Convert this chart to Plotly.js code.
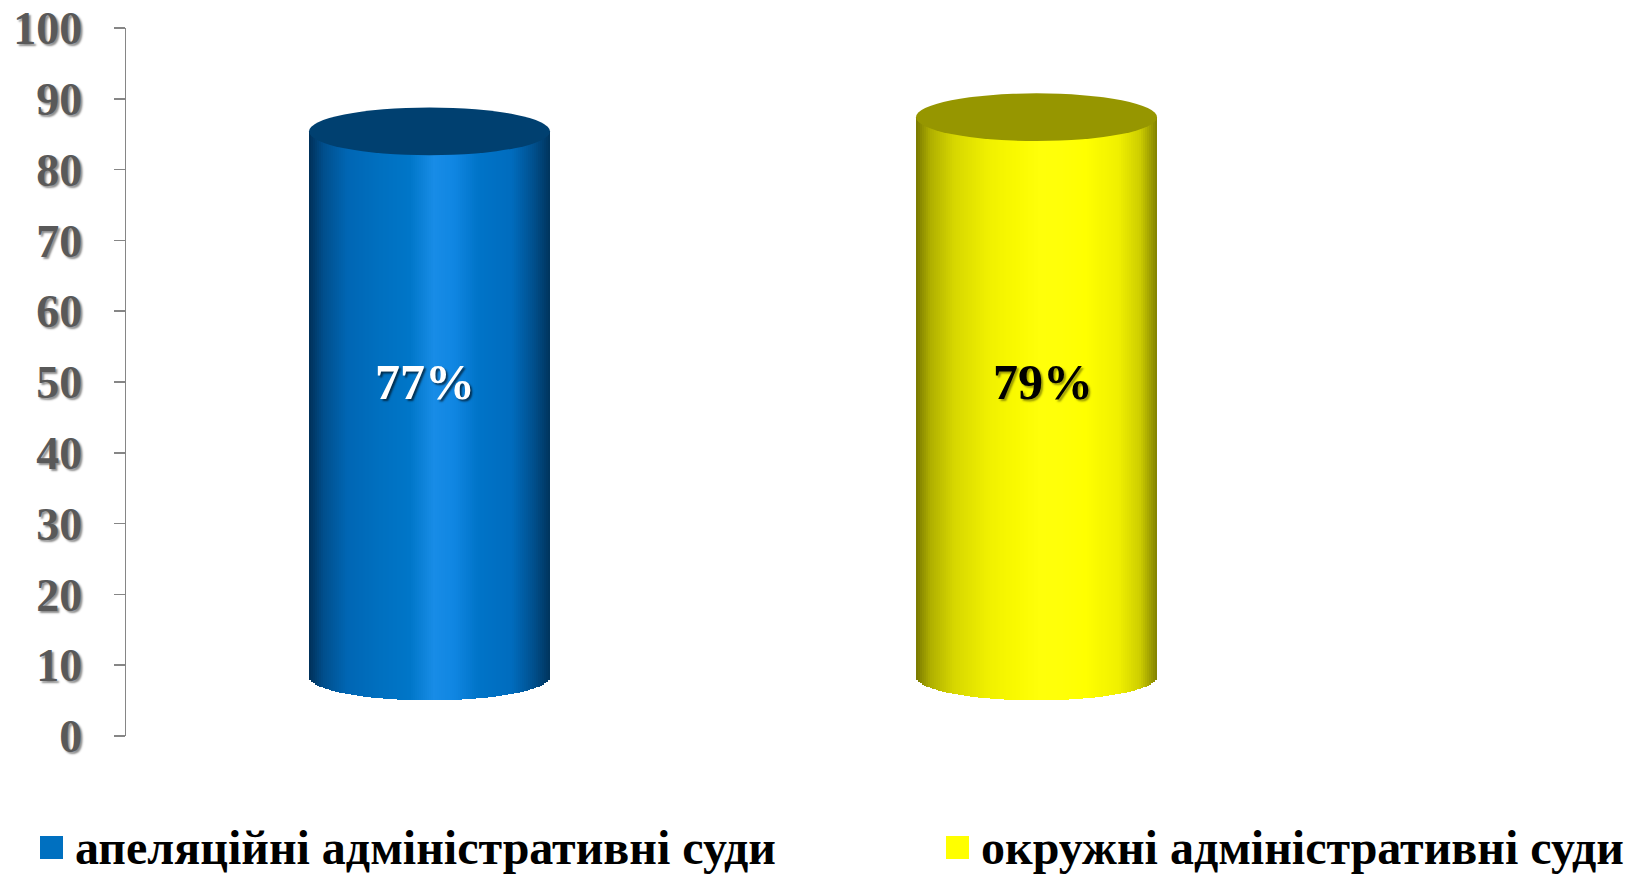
<!DOCTYPE html>
<html>
<head>
<meta charset="utf-8">
<script src="https://cdn.plot.ly/plotly-3.0.1.min.js"></script>
<style>html,body{margin:0;padding:0;background:#fff;}#chart{width:1639px;height:875px;}</style>
</head>
<body>
<div id="chart"></div>
<script>
// ---- data ----
const categories = ['апеляційні адміністративні суди', 'окружні адміністративні суди'];
const values = [77, 79];
const valueLabels = ['77%', '79%'];
const yTickValues = [0, 10, 20, 30, 40, 50, 60, 70, 80, 90, 100];
const seriesColors = ['#0070C0', '#FFFF00'];

// ---- style (3D cylinder look) ----
const floorDepth = 8.4;      // 3D floor offset in axis units
const capHalf = 3.37;        // half-height of ellipse caps in axis units
const barWidth = 0.397;      // fraction of category
const strips = 120;
const bodyStops = [
  [0.00, [0, 48, 88],    [120, 120, 0]],
  [0.06, [0, 78, 140],   [175, 175, 0]],
  [0.16, [0, 102, 180],  [215, 215, 0]],
  [0.30, [0, 112, 192],  [240, 240, 0]],
  [0.42, [0, 118, 200],  [250, 250, 0]],
  [0.52, [24, 140, 230], [255, 255, 10]],
  [0.60, [16, 134, 226], [255, 255, 8]],
  [0.70, [0, 116, 200],  [255, 255, 0]],
  [0.84, [0, 108, 190],  [240, 240, 0]],
  [0.93, [0, 80, 142],   [205, 205, 0]],
  [1.00, [0, 52, 92],    [130, 130, 0]]
];
const capColors = ['#004070', '#969600'];
const serif = 'Liberation Serif, Times New Roman, serif';

function gradAt(t, k) {
  for (let i = 0; i < bodyStops.length - 1; i++) {
    const a = bodyStops[i], b = bodyStops[i + 1];
    if (t >= a[0] && t <= b[0]) {
      const f = (t - a[0]) / (b[0] - a[0]);
      const ca = a[k + 1], cb = b[k + 1];
      const c = ca.map((v, j) => Math.round(v + (cb[j] - v) * f));
      return 'rgb(' + c.join(',') + ')';
    }
  }
  const last = bodyStops[bodyStops.length - 1][k + 1];
  return 'rgb(' + last.join(',') + ')';
}

const traces = [];
const sw = barWidth / strips;
for (let i = 0; i < strips; i++) {
  const t = (i + 0.5) / strips;
  const u = 2 * t - 1;
  const dip = capHalf * Math.sqrt(Math.max(0, 1 - u * u));
  traces.push({
    type: 'bar',
    x: categories,
    y: values.map(v => v + dip),
    base: values.map(() => floorDepth - dip),
    width: sw * 1.08,
    offset: -barWidth / 2 + i * sw - sw * 0.04,
    marker: { color: categories.map((_, k) => gradAt(t, k)), line: { width: 0 } },
    showlegend: false,
    hoverinfo: 'skip'
  });
}

// plot geometry (pixels) used to place the legend below the plot
const M = { l: 126, r: 299, t: 28, b: 139 };
const W = 1639, H = 875;
const pw = W - M.l - M.r, ph = H - M.t - M.b;
const px = x => (x - M.l) / pw;
const py = y => (H - M.b - y) / ph;

const legendSquares = [[40, 63], [946, 969]];
const legendTextX = [73, 979];
const legendY = [836, 859];

const shapes = categories.map((c, k) => ({
  type: 'circle', xref: 'x', yref: 'y', layer: 'above',
  x0: k - barWidth / 2, x1: k + barWidth / 2,
  y0: floorDepth + values[k] - capHalf, y1: floorDepth + values[k] + capHalf,
  fillcolor: capColors[k], line: { width: 0 }
}));
categories.forEach((c, k) => {
  shapes.push({
    type: 'rect', xref: 'paper', yref: 'paper',
    x0: px(legendSquares[k][0]), x1: px(legendSquares[k][1]),
    y0: py(legendY[1]), y1: py(legendY[0]),
    fillcolor: seriesColors[k], line: { width: 0 }
  });
});

const annotations = categories.map((c, k) => ({
  x: c, y: 50, xref: 'x', yref: 'y', xshift: k === 0 ? -5 : 6,
  text: '<b>' + valueLabels[k] + '</b>', showarrow: false,
  font: {
    family: serif, size: 50,
    color: k === 0 ? '#ffffff' : '#000000',
    shadow: k === 0 ? '2px 2px 2px rgba(0,0,0,0.6)' : '2px 2px 2px rgba(90,90,0,0.6)'
  }
}));
categories.forEach((c, k) => {
  annotations.push({
    xref: 'paper', yref: 'paper', x: px(legendTextX[k]), y: py((legendY[0] + legendY[1]) / 2),
    xanchor: 'left', yanchor: 'middle', showarrow: false,
    text: '<b>' + c + '</b>',
    font: { family: serif, size: 48, color: '#000000' }
  });
});

const layout = {
  width: W, height: H,
  margin: M,
  paper_bgcolor: '#ffffff', plot_bgcolor: '#ffffff',
  barmode: 'overlay', bargap: 0,
  showlegend: false,
  xaxis: {
    type: 'category', range: [-0.5, 1.5], showticklabels: false,
    showline: false, showgrid: false, zeroline: false, ticks: ''
  },
  yaxis: {
    range: [0, 100], tickvals: yTickValues, ticktext: yTickValues.map(String),
    showline: true, linecolor: '#868686', linewidth: 1.5,
    ticks: 'outside', ticklen: 11, tickcolor: '#868686', tickwidth: 1.5,
    showgrid: false, zeroline: false, ticklabelstandoff: 22,
    tickfont: {
      family: serif, size: 46, color: '#595959',
      weight: 'bold', shadow: '2px 2px 2px rgba(0,0,0,0.45)'
    }
  },
  shapes: shapes,
  annotations: annotations
};

Plotly.newPlot('chart', traces, layout, { displayModeBar: false, staticPlot: true });
</script>
</body>
</html>
